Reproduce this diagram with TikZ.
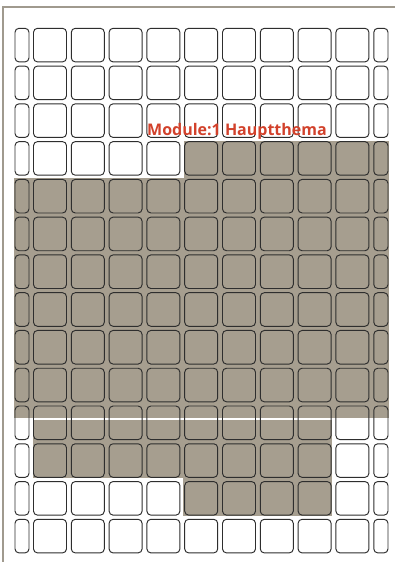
\documentclass[tikz,border=0pt]{standalone}
\usepackage{fontspec}
\newfontfamily\titlefont{Open Sans}
\definecolor{shade}{HTML}{A69E8F}
\definecolor{framec}{HTML}{A09A8E}
\definecolor{cellc}{HTML}{2E2E2E}
\definecolor{titlec}{HTML}{D2412B}
\tikzset{
  cellbox/.style={draw=cellc, line width=0.95pt, rounded corners=4pt},
  shadebox/.style={fill=shade, draw=none},
  framelin/.style={draw=framec, line width=1.8pt},
  titletext/.style={text=titlec, font=\titlefont\fontsize{16}{18}\selectfont\bfseries, inner sep=0pt, anchor=base}
}
\begin{document}
\begin{tikzpicture}[x=1pt,y=-1pt]
\useasboundingbox (0,0) rectangle (395,562);
\fill[white] (0,0) rectangle (395,562);
% frame
\draw[framelin] (3,562) -- (3,7) -- (395,7);
% shaded areas
\fill[shadebox] (184,140.5) rectangle (388.5,178);
\fill[shadebox] (14,178) rectangle (388.5,417.6);
\fill[shadebox] (33,420.4) rectangle (331.5,478);
\fill[shadebox] (183,478) rectangle (331.5,516);
% cells
\foreach \j in {0,...,13}{
  \pgfmathsetmacro{\yt}{28.3+37.77*\j}
  \pgfmathsetmacro{\yb}{\yt+33.6}
  \draw[cellbox] (15,\yt) rectangle (29,\yb);
  \draw[cellbox] (373.8,\yt) rectangle (388,\yb);
  \foreach \i in {0,...,8}{
    \pgfmathsetmacro{\xl}{33.5+37.8*\i}
    \pgfmathsetmacro{\xr}{\xl+33}
    \draw[cellbox] (\xl,\yt) rectangle (\xr,\yb);
  }
}
\node[titletext] (title) at (237,135.7) {Module:1 Hauptthema};
\end{tikzpicture}
\end{document}
